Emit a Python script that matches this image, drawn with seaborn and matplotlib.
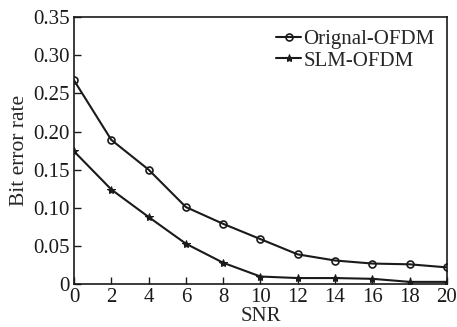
import matplotlib
matplotlib.use("Agg")
import matplotlib.pyplot as plt
import seaborn as sns
import pandas as pd

snr = [0, 2, 4, 6, 8, 10, 12, 14, 16, 18, 20]
orig_ofdm = [0.267, 0.189, 0.150, 0.101, 0.079, 0.059, 0.039, 0.031, 0.027, 0.026, 0.022]
slm_ofdm = [0.174, 0.124, 0.088, 0.053, 0.028, 0.010, 0.008, 0.008, 0.007, 0.003, 0.003]
x_ticks = [0, 2, 4, 6, 8, 10, 12, 14, 16, 18, 20]
y_ticks = [0, 0.05, 0.10, 0.15, 0.20, 0.25, 0.30, 0.35]
y_tick_labels = ["0", "0.05", "0.10", "0.15", "0.20", "0.25", "0.30", "0.35"]

sns.set_style("ticks")
plt.rcParams['font.family'] = ['Liberation Serif', 'DejaVu Serif']

fig = plt.figure(figsize=(4.57, 3.27), dpi=100)
ax = fig.add_axes([0.162, 0.131, 0.816, 0.817])

df_o = pd.DataFrame({"SNR": snr, "BER": orig_ofdm})
df_s = pd.DataFrame({"SNR": snr, "BER": slm_ofdm})
sns.lineplot(data=df_o, x="SNR", y="BER", ax=ax, color="#1a1a1a", lw=1.5,
             marker="o", markersize=5, markerfacecolor="none",
             markeredgecolor="#1a1a1a", markeredgewidth=1.2, label="Orignal-OFDM")
sns.lineplot(data=df_s, x="SNR", y="BER", ax=ax, color="#1a1a1a", lw=1.5,
             marker="*", markersize=6, markerfacecolor="#1a1a1a",
             markeredgecolor="#1a1a1a", label="SLM-OFDM")

ax.set_xlim(0, 20)
ax.set_ylim(0, 0.35)
ax.set_xticks(x_ticks)
ax.set_xticklabels([str(t) for t in x_ticks])
ax.set_yticks(y_ticks)
ax.set_yticklabels(y_tick_labels)
ax.tick_params(direction="in", length=5, width=1, labelsize=15, colors="#1a1a1a", pad=3)
ax.tick_params(axis="x", pad=3)
for s in ax.spines.values():
    s.set_linewidth(1.2)
    s.set_color("#1a1a1a")
    s.set_visible(True)
ax.set_xlabel("SNR", fontsize=15, labelpad=0)
ax.set_ylabel("Bit error rate", fontsize=15.5, labelpad=3)
leg = ax.legend(loc="upper right", frameon=False, fontsize=15, handlelength=1.2,
                handletextpad=0.1, labelspacing=0.1, borderaxespad=0.2,
                bbox_to_anchor=(1.0, 1.0))
fig.savefig("out.png", dpi=100)
